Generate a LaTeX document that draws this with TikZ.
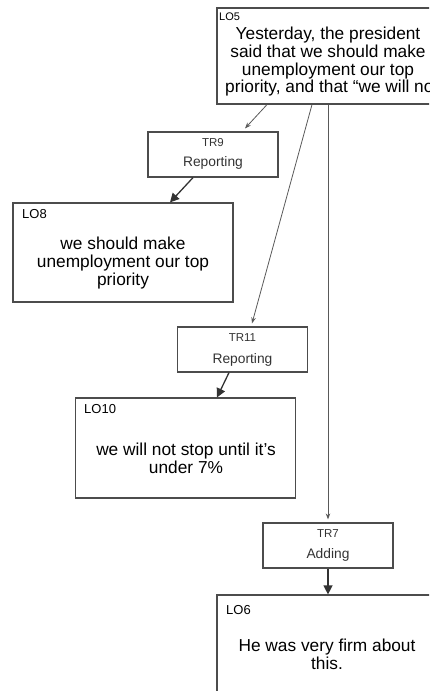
\documentclass[tikz,border=0pt]{standalone}
\usepackage{fontspec}
\setmainfont{Liberation Sans}
\usetikzlibrary{arrows.meta}

\begin{document}
\begin{tikzpicture}[x=1pt,y=-1pt]
\tikzset{
  lobox/.style={rectangle,draw=black!70,line width=1.2pt,minimum width=220pt,inner sep=0pt},
  trbox/.style={rectangle,draw=black!70,line width=1.2pt,minimum width=130pt,minimum height=45pt,inner sep=0pt},
  loid/.style={inner sep=0pt,anchor=west,font=\fontsize{13}{15}\selectfont},
  lotext/.style={inner sep=0pt,align=center,font=\fontsize{17.3}{17.8}\selectfont},
  trid/.style={inner sep=0pt,text=black!80,font=\fontsize{11.5}{13}\selectfont},
  trname/.style={inner sep=0pt,text=black!80,font=\fontsize{13.8}{15}\selectfont},
  thinlink/.style={draw=black!65,line width=0.8pt,-{Stealth[length=6pt,width=4.5pt]}},
  boldlink/.style={draw=black!80,line width=1.3pt,-{Triangle[length=9pt,width=9pt]}}
}
\useasboundingbox (0,0) rectangle (429,691);
\clip (0,0) rectangle (429,691);
% lexical objects
\node[lobox,minimum height=96pt] (n_LO5) at (327,56) {};
\node[loid,font=\fontsize{11}{13}\selectfont] (n_LO5_id) at (219,17) {LO5};
\node[lotext] (n_LO5_txt) at (328,53) {Yesterday, the president\\said that we should make\\unemployment our top};
\node[lotext,anchor=west] (n_LO5_cut) at (225,88) {priority, and that “we will not};
\node[lobox,minimum height=99pt] (n_LO8) at (123,252.5) {};
\node[loid] (n_LO8_id) at (22,214) {LO8};
\node[lotext] (n_LO8_txt) at (123,263) {we should make\\unemployment our top\\priority};
\node[lobox,minimum height=100pt] (n_LO10) at (185.5,448) {};
\node[loid] (n_LO10_id) at (84,409) {LO10};
\node[lotext] (n_LO10_txt) at (186,458) {we will not stop until it’s\\under 7\%};
\node[lobox,minimum height=100pt] (n_LO6) at (327,645) {};
\node[loid] (n_LO6_id) at (226,610) {LO6};
\node[lotext] (n_LO6_txt) at (327,654) {He was very firm about\\this.};
% transitions
\node[trbox] (n_TR9) at (213,154.5) {};
\node[trid] (n_TR9_id) at (213,143) {TR9};
\node[trname] (n_TR9_name) at (213,163) {Reporting};
\node[trbox] (n_TR11) at (242.5,349.5) {};
\node[trid] (n_TR11_id) at (242.5,338) {TR11};
\node[trname] (n_TR11_name) at (242.5,360) {Reporting};
\node[trbox] (n_TR7) at (328,545.5) {};
\node[trid] (n_TR7_id) at (328,534) {TR7};
\node[trname] (n_TR7_name) at (328,555) {Adding};
% links
\draw[thinlink] ([xshift=-60pt]n_LO5.south) -- ([xshift=32pt,yshift=3pt]n_TR9.north);
\draw[boldlink] ([xshift=-20pt]n_TR9.south) -- ([xshift=47pt]n_LO8.north);
\draw[thinlink] ([xshift=-15pt]n_LO5.south) -- ([xshift=9.5pt,yshift=3pt]n_TR11.north);
\draw[boldlink] ([xshift=-13.5pt]n_TR11.south) -- ([xshift=31.5pt]n_LO10.north);
\draw[thinlink] (n_LO5.south -| n_TR7.north) -- ([yshift=3pt]n_TR7.north);
\draw[boldlink] (n_TR7.south) -- (n_TR7.south |- n_LO6.north);
\end{tikzpicture}
\end{document}
